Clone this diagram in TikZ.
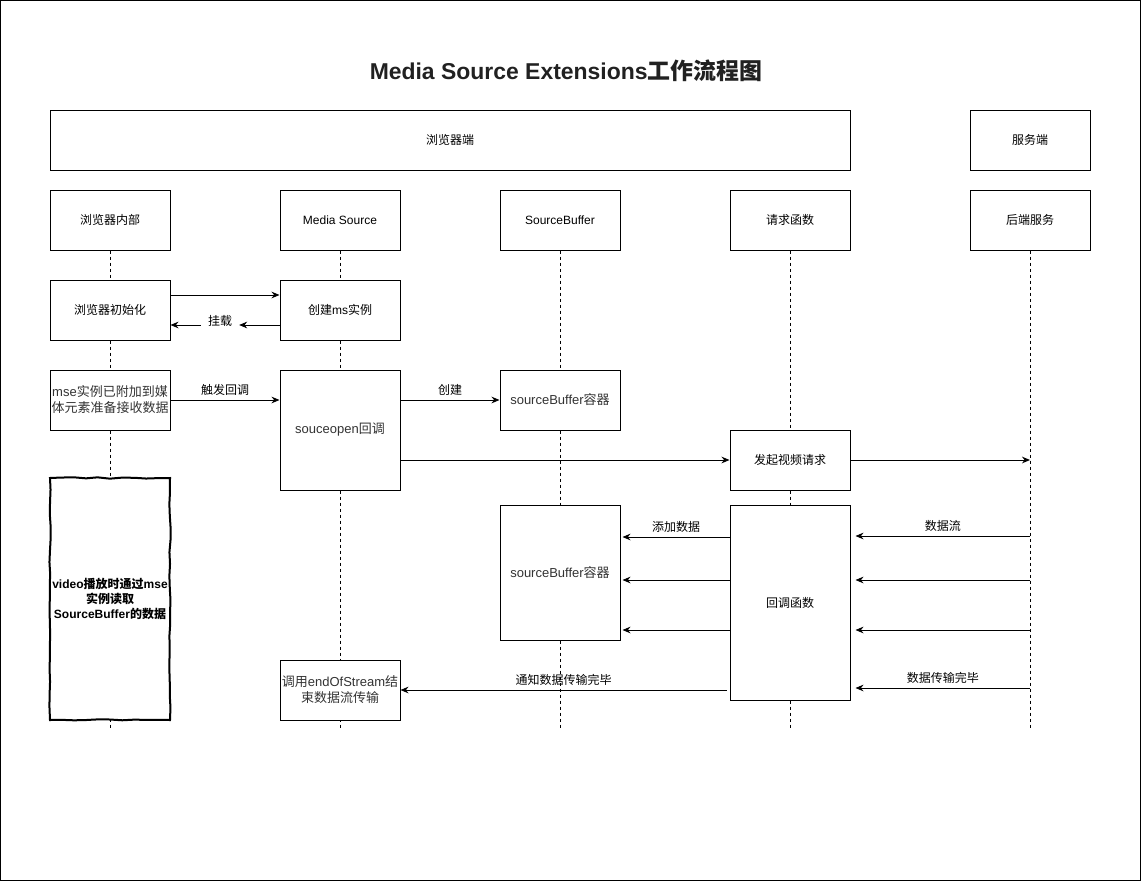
\documentclass[tikz,border=0pt]{standalone}
\usepackage{fontspec}
\setmainfont{Liberation Sans}
\newfontfamily\cjk{Noto Sans CJK SC}
\newcommand\zh[1]{{\cjk #1}}
\usetikzlibrary{arrows.meta,decorations.pathmorphing}
\definecolor{txtgray}{HTML}{333333}

\begin{document}
\begin{tikzpicture}[x=0.75pt,y=-0.75pt,line width=0.75pt,
  every node/.style={font=\fontsize{9}{11}\selectfont},
  box/.style={draw, fill=white, align=center, minimum width=90pt, minimum height=45pt, inner sep=1pt},
  gbox/.style={text=txtgray, font=\fontsize{9.75}{12}\selectfont},
  sketch/.style={box, line width=1.5pt, decorate, decoration={random steps,segment length=9pt,amplitude=0.5pt},
    font=\bfseries\fontsize{9}{11}\selectfont},
  lane/.style={dash pattern=on 2.25pt off 2.25pt},
  msg/.style={-{Stealth[length=6pt,width=5pt]}}]
\pgfmathsetseed{7}
\useasboundingbox (0,0) rectangle (1141,881);
\draw (0.5,0.5) rectangle (1140.5,880.5);
\node[font=\bfseries\fontsize{17.2}{20}\selectfont, text=black!87] (title) at (566,71) {Media Source Extensions\zh{工作流程图}};
\node[box, minimum width=600pt] (web) at (450,140) {\zh{浏览器端}};
\node[box] (srv) at (1030,140) {\zh{服务端}};
\node[box] (inner) at (110,220) {\zh{浏览器内部}};
\node[box] (msrc) at (340,220) {Media Source};
\node[box] (sbuf) at (560,220) {SourceBuffer};
\node[box] (reqf) at (790,220) {\zh{请求函数}};
\node[box] (back) at (1030,220) {\zh{后端服务}};
\foreach \n in {inner,msrc,sbuf,reqf,back}
  \draw[lane] (\n.south) -- (\n.south |- 0,730);
\node[box] (init) at (110,310) {\zh{浏览器初始化}};
\node[box] (create) at (340,310) {\zh{创建}ms\zh{实例}};
\node[box, gbox] (attach) at (110,400) {mse\zh{实例已附加到媒}\\\zh{体元素准备接收数据}};
\node[box, gbox, minimum height=90pt] (open) at (340,430) {souceopen\zh{回调}};
\node[box, gbox] (sb1) at (560,400) {sourceBuffer\zh{容器}};
\node[box] (req) at (790,460) {\zh{发起视频请求}};
\node[sketch, minimum height=181.5pt] (play) at (110,599) {video\zh{播放时通过}mse\\\zh{实例读取}\\SourceBuffer\zh{的数据}};
\node[box, gbox, minimum height=101.25pt] (sb2) at (560,572.5) {sourceBuffer\zh{容器}};
\node[box, minimum height=146.25pt] (cb) at (790,602.5) {\zh{回调函数}};
\node[box, gbox] (eos) at (340,690) {\zh{调用}endOfStream\zh{结}\\\zh{束数据流传输}};
\node[inner sep=5pt] (mount) at (220,321) {\zh{挂载}};
\draw[msg] (init.east |- 0,295) -- (create.west |- 0,295);
\draw[msg] (create.west |- 0,325) -- (mount.east |- 0,325);
\draw[msg] (mount.west |- 0,325) -- (init.east |- 0,325);
\draw[msg] (attach.east) -- node[above]{\zh{触发回调}} (open.west |- attach.east);
\draw[msg] (open.east |- sb1.west) -- node[above]{\zh{创建}} (sb1.west);
\draw[msg] (open.east |- req.west) -- (req.west);
\draw[msg] (req.east) -- (back |- req.east);
\draw[msg] (back |- 0,536) -- node[above]{\zh{数据流}} ([xshift=3.75pt]cb.east |- 0,536);
\draw[msg] (back |- 0,580) -- ([xshift=3.75pt]cb.east |- 0,580);
\draw[msg] (back |- 0,630) -- ([xshift=3.75pt]cb.east |- 0,630);
\draw[msg] (back |- 0,688) -- node[above]{\zh{数据传输完毕}} ([xshift=3.75pt]cb.east |- 0,688);
\draw[msg] (cb.west |- 0,537) -- node[above]{\zh{添加数据}} ([xshift=1.5pt]sb2.east |- 0,537);
\draw[msg] (cb.west |- 0,580) -- ([xshift=1.5pt]sb2.east |- 0,580);
\draw[msg] (cb.west |- 0,630) -- ([xshift=1.5pt]sb2.east |- 0,630);
\draw[msg] ([xshift=-2.25pt]cb.west |- 0,690) -- node[above]{\zh{通知数据传输完毕}} (eos.east |- 0,690);
\end{tikzpicture}
\end{document}
